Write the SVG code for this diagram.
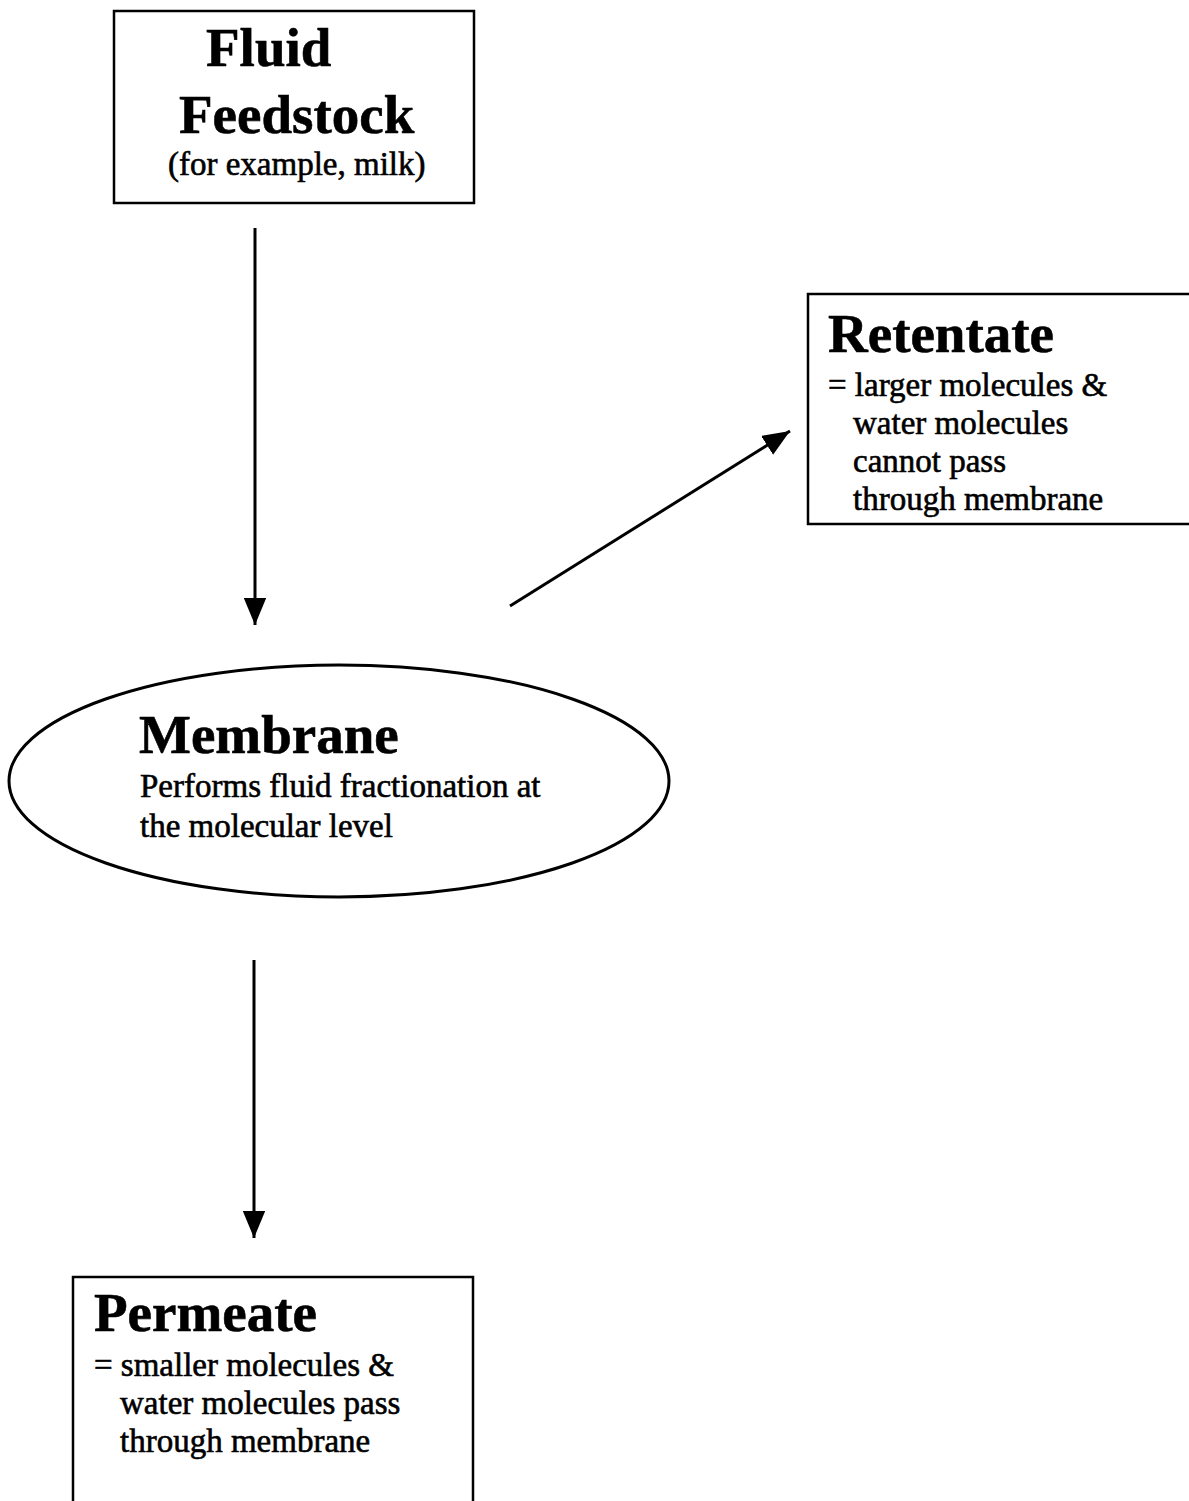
<svg xmlns="http://www.w3.org/2000/svg" width="1189" height="1501" viewBox="0 0 1189 1501">
<style>
.box{fill:#fff;stroke:#000;stroke-width:2.5}
.h{font-family:"Liberation Serif",serif;font-weight:bold;font-size:55px;fill:#000;stroke:#000;stroke-width:0.6}
.t{font-family:"Liberation Serif",serif;font-size:33px;fill:#000;stroke:#000;stroke-width:0.6}
.c{stroke:#000;stroke-width:3;fill:none}
</style>
<defs>
<marker id="ah" viewBox="0 0 12 10" refX="12" refY="5" markerWidth="9" markerHeight="7.5" markerUnits="strokeWidth" orient="auto">
<path d="M0,0 L12,5 L0,10 z" fill="#000"/>
</marker>
</defs>
<rect width="1189" height="1501" fill="#fff"/>
<g id="connectors">
<line class="c" x1="255" y1="228" x2="255" y2="625" marker-end="url(#ah)"/>
<line class="c" x1="510" y1="606" x2="790" y2="431" marker-end="url(#ah)"/>
<line class="c" x1="254" y1="960" x2="254" y2="1238" marker-end="url(#ah)"/>
</g>
<g id="feedstock">
<rect class="box" x="114" y="11" width="360" height="192"/>
<text class="h" x="206" y="66">Fluid</text>
<text class="h" x="179" y="133">Feedstock</text>
<text class="t" x="168" y="175">(for example, milk)</text>
</g>
<g id="retentate">
<rect class="box" x="808" y="294" width="400" height="230"/>
<text class="h" x="828" y="352">Retentate</text>
<text class="t" x="828" y="396">= larger molecules &amp;</text>
<text class="t" x="853" y="434">water molecules</text>
<text class="t" x="853" y="472">cannot pass</text>
<text class="t" x="853" y="510">through membrane</text>
</g>
<g id="membrane">
<ellipse class="box" cx="339" cy="781" rx="330" ry="116" style="stroke-width:3"/>
<text class="h" x="139" y="753">Membrane</text>
<text class="t" x="140" y="797">Performs fluid fractionation at</text>
<text class="t" x="140" y="837">the molecular level</text>
</g>
<g id="permeate">
<rect class="box" x="73" y="1277" width="400" height="240"/>
<text class="h" x="94" y="1331">Permeate</text>
<text class="t" x="94" y="1376">= smaller molecules &amp;</text>
<text class="t" x="120" y="1414">water molecules pass</text>
<text class="t" x="120" y="1452">through membrane</text>
</g>
</svg>
